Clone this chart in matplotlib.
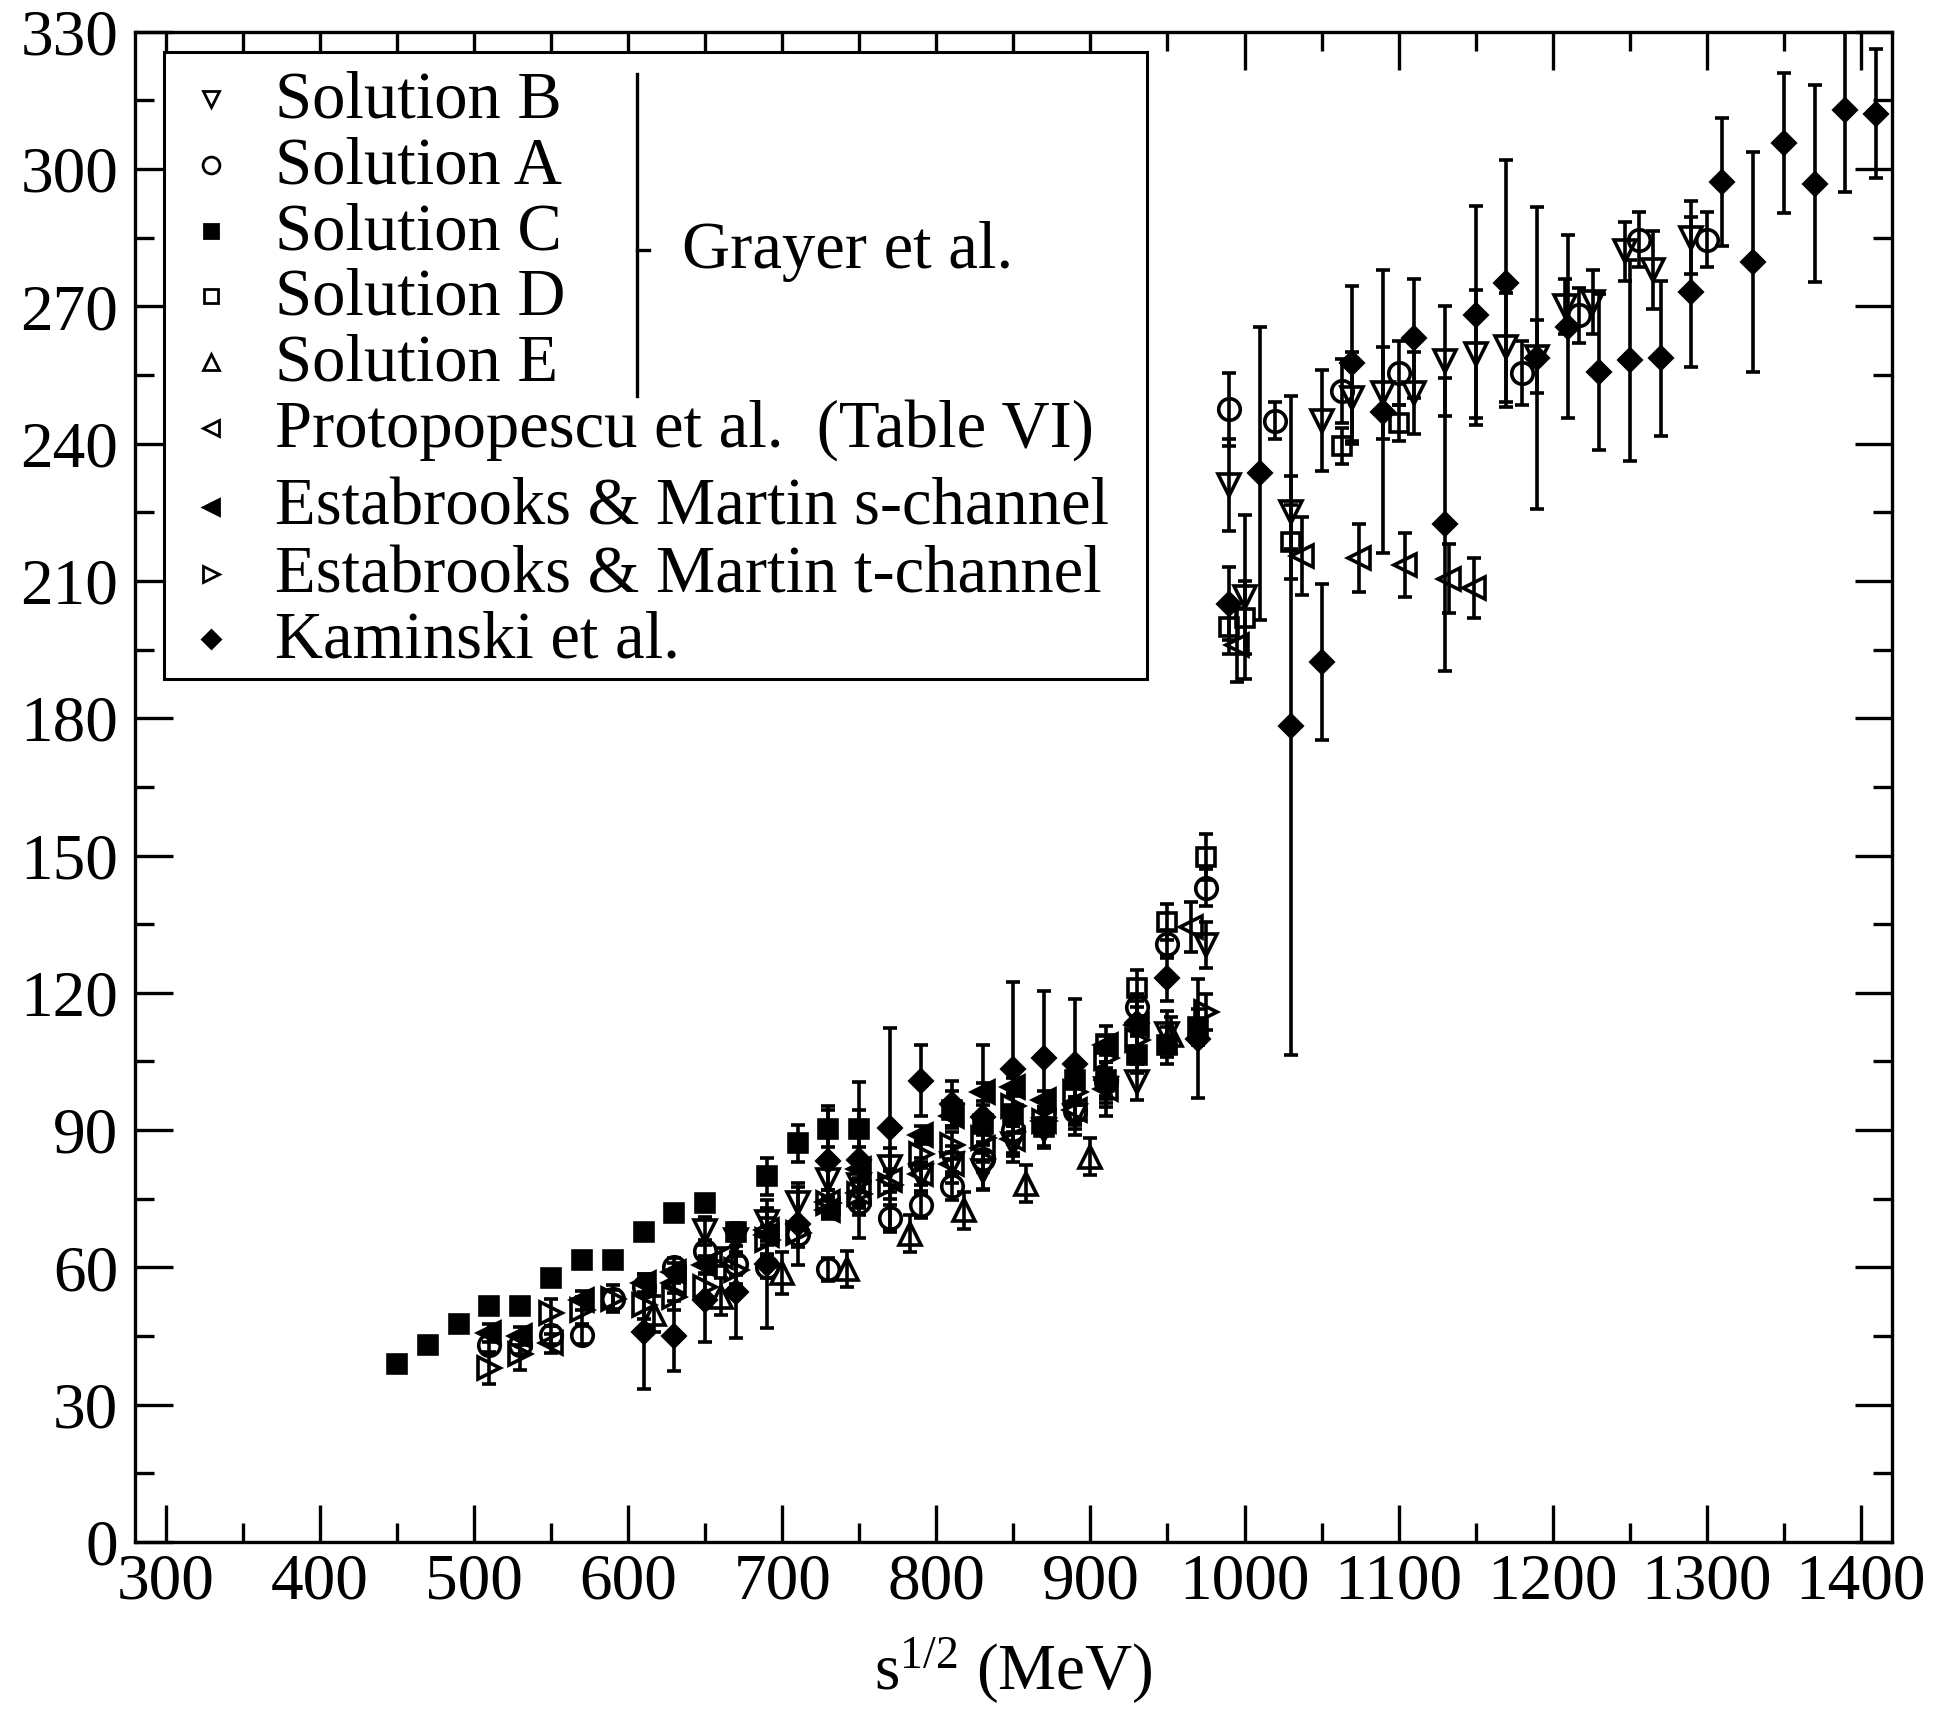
import numpy as np
import matplotlib
matplotlib.use('Agg')
import matplotlib.pyplot as plt
from matplotlib.patches import Rectangle
from matplotlib.lines import Line2D

plt.rcParams['font.family'] = ['Liberation Serif', 'DejaVu Serif']
plt.rcParams['mathtext.fontset'] = 'custom'
plt.rcParams['mathtext.rm'] = 'Liberation Serif'
plt.rcParams['mathtext.it'] = 'Liberation Serif:italic'

# ---------------- data ----------------
# Grayer et al., Solution B
solB_x = [650, 670, 690, 710, 730, 750, 770, 790, 810, 830, 850, 870, 890, 910, 930, 950, 975,
          990, 1000, 1030, 1050, 1070, 1090, 1110, 1130, 1150, 1170, 1190, 1208, 1226, 1247, 1265, 1290]
solB_y = [68, 66, 70, 74, 79, 78, 82, 80, 82.5, 81, 87, 90, 93, 99, 100.5, 111, 130.5,
          231, 206.5, 225, 245, 250, 251, 251, 258, 259.5, 261, 259, 270, 271, 282, 278, 285]
solB_e = [3, 3, 3, 3.5, 3.5, 4, 4, 4, 4, 4, 4, 4, 4, 4, 4, 5, 5,
          10, 18, 8, 11, 10, 10, 9, 12, 14, 12, 8, 6, 7, 6.5, 8.5, 8]

# Solution A
solA_x = [510, 530, 550, 570, 590, 610, 630, 650, 670, 690, 710, 730, 750, 770, 790, 810, 830, 850,
          890, 910, 930, 950, 975, 990, 1020, 1063, 1100, 1180, 1217, 1256, 1300]
solA_y = [43, 43, 45.3, 45.2, 53, 55.7, 60.1, 63.6, 60.8, 60.1, 67.4, 59.6, 74.4, 70.7, 73.7, 77.8, 83.8, 90,
          94.2, 100.5, 116.8, 130.7, 143, 247.5, 245, 251.5, 255.5, 255.5, 268, 284.5, 284.5]
solA_e = [2, 2, 2, 2, 2, 2, 2, 2.5, 2.5, 2.5, 2.5, 2.5, 3, 3, 3, 3, 3, 3,
          3, 3, 3, 3, 4, 8, 4, 7, 7, 7, 6, 6, 6]

# Solution C
solC_x = [450, 470, 490, 510, 530, 550, 570, 590, 610, 630, 650, 670, 690, 710, 730, 750,
          810, 830, 850, 870, 890, 910, 930, 950, 970]
solC_y = [39, 43, 47.7, 51.6, 51.6, 57.6, 61.6, 61.6, 67.8, 71.9, 74.1, 67.8, 79.9, 87.1, 90.3, 90.3,
          94.5, 91.4, 93.6, 90.6, 100.9, 100.9, 106.5, 108.5, 112.5]
solC_e = [1.5, 1.5, 1.5, 1.5, 1.5, 1.5, 1.5, 1.5, 1.5, 1.5, 1.5, 2, 4, 4, 4, 4,
          4, 4, 4, 4, 4, 4, 4, 4, 4]

# Solution D
solD_x = [910, 930, 950, 975, 990, 1000, 1030, 1063, 1100]
solD_y = [108.8, 121, 135.5, 149.7, 200, 202, 218.5, 239.5, 244.5]
solD_e = [4, 4, 4, 5, 6, 8, 8, 4, 4]

# Solution E
solE_x = [617, 660, 700, 742, 783, 818, 858, 900, 952]
solE_y = [49.8, 53.6, 58.8, 59.7, 67.4, 72.5, 78.3, 84.2, 110.8]
solE_e = [4, 4, 4.5, 4, 4, 4, 4, 4, 4]

# Protopopescu et al. (Table VI)
prot_x = [550, 630, 660, 690, 730, 750, 770, 790, 810, 830, 850, 870, 890, 910,
          965, 995, 1037, 1074, 1104, 1133, 1149]
prot_y = [43.4, 56.5, 62.3, 68.2, 74.4, 76.2, 79, 80.5, 82.7, 86, 88, 92, 94.3, 99,
          134.4, 196, 215.5, 215, 213.5, 210.5, 208.5]
prot_e = [2, 2, 2, 2.5, 2.5, 2.5, 2.5, 2.5, 2.5, 3, 3, 3, 3, 3,
          5.5, 8, 8.5, 7.5, 7, 7.5, 6.5]

# Estabrooks & Martin s-channel
ems_x = [510, 530, 570, 610, 630, 650, 690, 730, 750, 790, 810, 830, 850, 870, 910, 930]
ems_y = [45.7, 45, 52.8, 56.5, 59, 60.5, 67, 72.5, 81.6, 88.9, 93, 98.4, 99.4, 96.5, 108.5, 113]
ems_e = [2] * 16

# Estabrooks & Martin t-channel
emt_x = [510, 530, 550, 570, 590, 610, 630, 650, 670, 690, 710, 730, 750, 770,
         790, 810, 830, 850, 870, 890, 910, 930, 975]
emt_y = [38.1, 41.2, 50.1, 50.6, 53.2, 51.7, 53.6, 55.7, 59.4, 65.9, 67.5, 74, 76, 78,
         84.7, 86.7, 88.3, 95.2, 92, 98.4, 105.8, 109.8, 115.8]
emt_e = [3.5, 3.7, 3, 3, 3, 3, 3, 3, 3, 3, 3, 3, 3, 3,
         3, 3, 3, 3, 3, 3, 3, 3, 4]

# Kaminski et al.
kam_x = [610, 630, 650, 670, 690, 710, 730, 750, 770, 790, 810, 830, 850, 870, 890, 910, 930, 950, 970,
         990, 1010, 1030, 1050, 1070, 1090, 1110, 1130, 1150, 1170, 1190, 1210, 1230, 1250, 1270,
         1290, 1310, 1330, 1350, 1370, 1390, 1410]
kam_y = [46, 45, 52.8, 54.6, 60.8, 69.5, 83.3, 83.5, 90.4, 100.8, 95.8, 92.8, 103.4, 105.8, 104.5, 101,
         113.3, 123.3, 110,
         205, 233.5, 178.4, 192.3, 257.5, 247, 263, 222.4, 268, 275, 258.6, 265.5, 255.7, 258.2, 258.6,
         273.2, 297.2, 279.7, 305.6, 296.8, 312.9, 312.1]
kam_e = [12.5, 7.7, 9, 10, 14, 9, 12, 17, 22, 7.7, 5, 15.7, 19, 14.7, 14.2, 8, 5, 5, 13,
         8, 32, 72, 17, 17, 31, 13, 32, 24, 27, 33, 20, 17, 22, 17,
         16.4, 14, 24, 15.3, 21.6, 18, 14]

labels = ["Solution B", "Solution A", "Solution C", "Solution D", "Solution E",
          "Protopopescu et al.  (Table VI)", "Estabrooks & Martin s-channel",
          "Estabrooks & Martin t-channel", "Kaminski et al."]

# ---------------- figure ----------------
fig = plt.figure(figsize=(19.43, 17.10), dpi=100)
ax = fig.add_axes([0.0695, 0.0982, 0.9041, 0.8833])

LW = 2.6
styles = [
    (solB_x, solB_y, solB_e, 'v', False, 15.5),
    (solA_x, solA_y, solA_e, 'o', False, 15.5),
    (solC_x, solC_y, solC_e, 's', True, 13.5),
    (solD_x, solD_y, solD_e, 's', False, 13.5),
    (solE_x, solE_y, solE_e, '^', False, 15.5),
    (prot_x, prot_y, prot_e, '<', False, 15.5),
    (ems_x, ems_y, ems_e, '<', True, 15.5),
    (emt_x, emt_y, emt_e, '>', False, 15.5),
    (kam_x, kam_y, kam_e, 'D', True, 11.5),
]

for x, y, e, m, filled, ms in styles:
    ax.errorbar(x, y, yerr=e, fmt=m, ms=ms,
                mfc='black' if filled else 'none', mec='black', mew=LW,
                ecolor='black', elinewidth=LW, capsize=5, capthick=LW)

ax.set_xlim(280, 1420)
ax.set_ylim(0, 330)
ax.set_xticks(np.arange(300, 1401, 100))
ax.set_xticks(np.arange(300, 1401, 50), minor=True)
ax.set_yticks(np.arange(0, 331, 30))
ax.set_yticks(np.arange(0, 331, 15), minor=True)
ax.tick_params(which='both', direction='in', top=True, right=True, width=2.4, labelsize=47)
ax.tick_params(which='major', length=27)
ax.tick_params(which='minor', length=14)
ax.tick_params(axis='x', pad=8)
ax.tick_params(axis='y', pad=12)
for sp in ax.spines.values():
    sp.set_linewidth(2.4)

# ---------------- legend (drawn by hand) ----------------
ax.add_patch(Rectangle((0.0163, 0.5714), 0.5600, 0.4152, transform=ax.transAxes,
                       fill=True, facecolor='white', edgecolor='black', lw=2.2, zorder=5))
base_y = [0.9431, 0.8996, 0.8559, 0.8127, 0.7692, 0.7255, 0.6734, 0.6289, 0.5859]
for (x, y, e, m, filled, ms), lab, by in zip(styles, labels, base_y):
    ax.add_line(Line2D([0.043], [by + 0.012], transform=ax.transAxes, marker=m,
                       ms=ms * 0.78, mfc='black' if filled else 'none', mec='black',
                       mew=2.0, ls='none', zorder=6))
    ax.text(0.0797, by, lab, transform=ax.transAxes, fontsize=48, va='baseline',
            ha='left', zorder=6)

# Grayer bracket
ax.add_line(Line2D([0.2857, 0.2857], [0.7585, 0.9718], transform=ax.transAxes,
                   color='black', lw=2.4, zorder=6))
ax.add_line(Line2D([0.2857, 0.2927], [0.8553, 0.8553], transform=ax.transAxes,
                   color='black', lw=2.4, zorder=6))
ax.text(0.3111, 0.8438, "Grayer et al.", transform=ax.transAxes, fontsize=48,
        va='baseline', ha='left', zorder=6)

fig.text(0.5214, 0.0125, r"s$^{\mathrm{1/2}}$ (MeV)", fontsize=47, ha='center', va='baseline')

fig.savefig('out.png', dpi=100)
